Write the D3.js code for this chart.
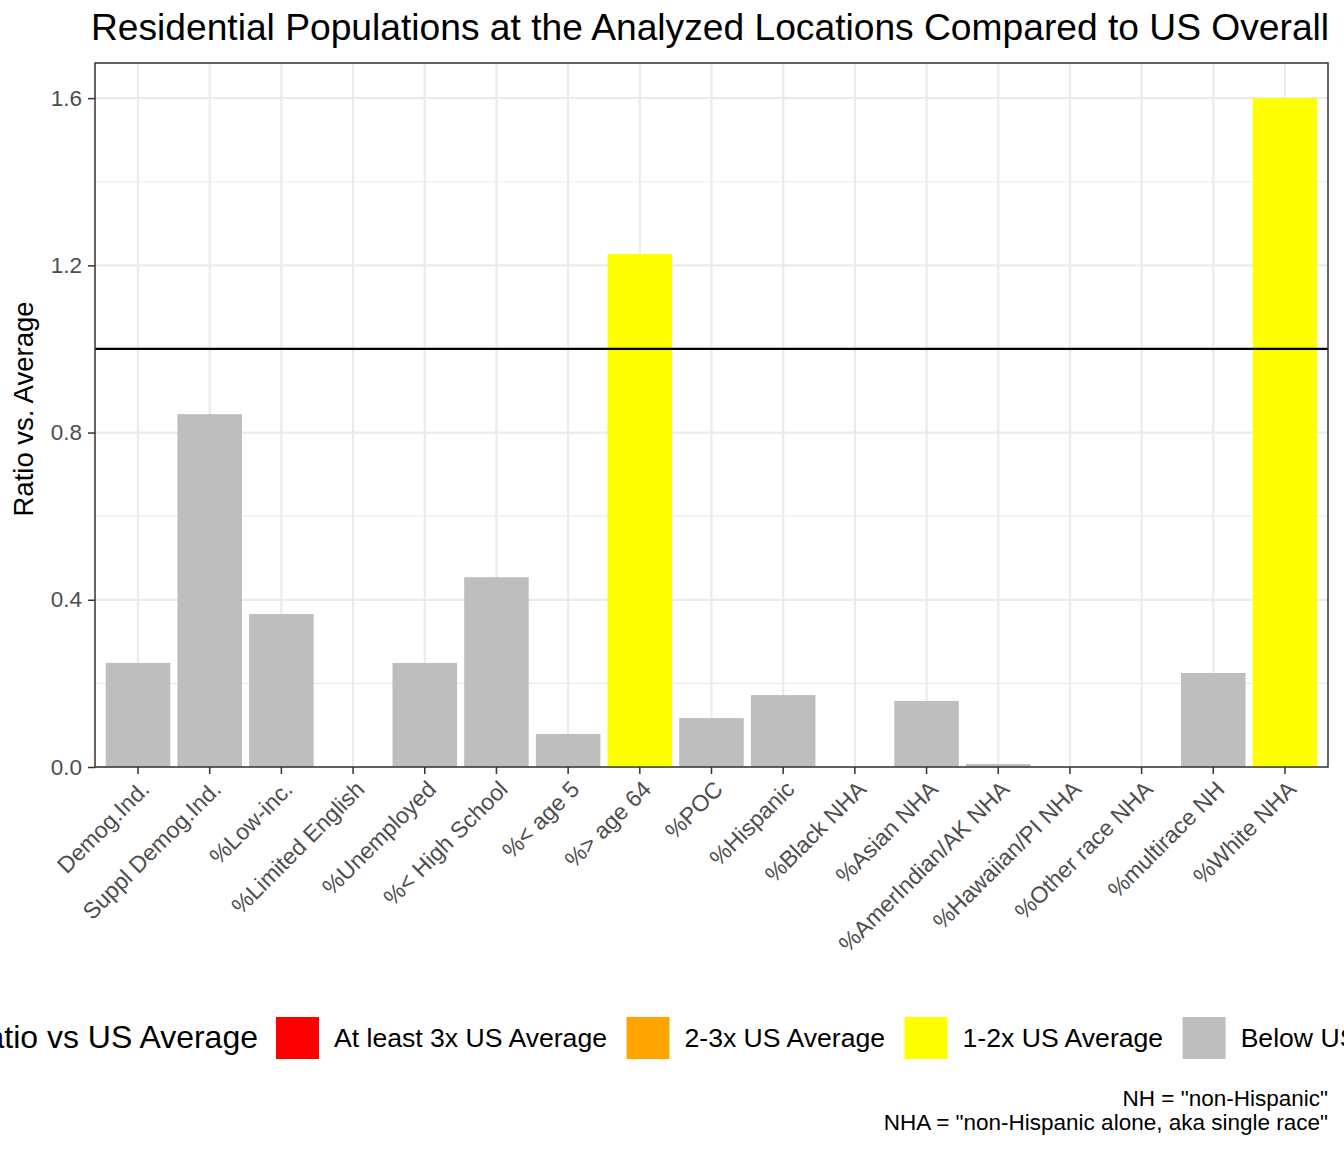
<!DOCTYPE html>
<html>
<head>
<meta charset="utf-8">
<script src="https://cdn.jsdelivr.net/npm/d3@7"></script>
<style>
  html, body { margin: 0; padding: 0; background: #fff; }
  svg { display: block; font-family: "Liberation Sans", Arial, sans-serif; }
</style>
</head>
<body>
<svg id="chart" width="1344" height="1152"></svg>
<script>
const categories = ["Demog.Ind.", "Suppl Demog.Ind.", "%Low-inc.", "%Limited English", "%Unemployed",
  "%< High School", "%< age 5", "%> age 64", "%POC", "%Hispanic", "%Black NHA", "%Asian NHA",
  "%AmerIndian/AK NHA", "%Hawaiian/PI NHA", "%Other race NHA", "%multirace NH", "%White NHA"];
const ratios = [0.249, 0.844, 0.366, 0, 0.249, 0.454, 0.079, 1.227, 0.117, 0.172, 0, 0.158, 0.007, 0, 0, 0.225, 1.6];
const yTicks = [0, 0.4, 0.8, 1.2, 1.6];
const yMinorTicks = [0.2, 0.6, 1.0, 1.4];
const legendLabels = ["At least 3x US Average", "2-3x US Average", "1-2x US Average", "Below US Average"];
const legendColors = ["#FF0000", "#FFA500", "#FFFF00", "#BEBEBE"];
const legendThresholds = [3, 2, 1, -Infinity];
const referenceLine = 1;
const titleText = "Residential Populations at the Analyzed Locations Compared to US Overall";
const yTitle = "Ratio vs. Average";
const legendTitle = "Ratio vs US Average";
const captionLines = ['NH = "non-Hispanic"', 'NHA = "non-Hispanic alone, aka single race"'];

const svg = d3.select("#chart");
const panel = { left: 95, right: 1328, top: 63, bottom: 767 };

const x = d3.scaleBand().domain(categories).range([panel.left, panel.right])
  .paddingInner(0.1).paddingOuter(0.15);
const y = d3.scaleLinear().domain([0, 1.684]).range([panel.bottom, panel.top]);

function colorFor(v) {
  for (let i = 0; i < legendThresholds.length; i++) if (v >= legendThresholds[i]) return legendColors[i];
  return legendColors[legendColors.length - 1];
}

// panel background
svg.append("rect").attr("x", panel.left).attr("y", panel.top)
  .attr("width", panel.right - panel.left).attr("height", panel.bottom - panel.top).attr("fill", "#fff");

// grid
const grid = svg.append("g");
grid.selectAll("line.minor").data(yMinorTicks).join("line")
  .attr("x1", panel.left).attr("x2", panel.right)
  .attr("y1", d => y(d)).attr("y2", d => y(d))
  .attr("stroke", "#EBEBEB").attr("stroke-width", 1.2);
grid.selectAll("line.majory").data(yTicks).join("line")
  .attr("x1", panel.left).attr("x2", panel.right)
  .attr("y1", d => y(d)).attr("y2", d => y(d))
  .attr("stroke", "#EBEBEB").attr("stroke-width", 2.2);
grid.selectAll("line.majorx").data(categories).join("line")
  .attr("x1", d => x(d) + x.bandwidth() / 2).attr("x2", d => x(d) + x.bandwidth() / 2)
  .attr("y1", panel.top).attr("y2", panel.bottom)
  .attr("stroke", "#EBEBEB").attr("stroke-width", 2.2);

// bars
svg.append("g").selectAll("rect").data(categories).join("rect")
  .attr("x", d => x(d)).attr("width", x.bandwidth())
  .attr("y", (d, i) => y(ratios[i])).attr("height", (d, i) => y(0) - y(ratios[i]))
  .attr("fill", (d, i) => colorFor(ratios[i]));

// reference line
svg.append("line").attr("x1", panel.left).attr("x2", panel.right)
  .attr("y1", y(referenceLine)).attr("y2", y(referenceLine))
  .attr("stroke", "#000").attr("stroke-width", 2.2);

// border
svg.append("rect").attr("x", panel.left).attr("y", panel.top)
  .attr("width", panel.right - panel.left).attr("height", panel.bottom - panel.top)
  .attr("fill", "none").attr("stroke", "#333333").attr("stroke-width", 1.5);

// y axis
const yAxis = d3.axisLeft(y).tickValues(yTicks).tickFormat(d3.format(".1f")).tickSize(7).tickPadding(6);
const gy = svg.append("g").attr("transform", `translate(${panel.left},0)`).call(yAxis);
gy.select(".domain").remove();
gy.selectAll(".tick line").attr("stroke", "#333333").attr("stroke-width", 1.5);
gy.selectAll(".tick text").attr("fill", "#4D4D4D").style("font-size", "22.5px")
  .style("font-family", "Liberation Sans, Arial, sans-serif");

// x axis
const xAxis = d3.axisBottom(x).tickSize(7).tickPadding(0);
const gx = svg.append("g").attr("transform", `translate(0,${panel.bottom})`).call(xAxis);
gx.select(".domain").remove();
gx.selectAll(".tick line").attr("stroke", "#333333").attr("stroke-width", 1.5);
gx.selectAll(".tick text")
  .attr("fill", "#4D4D4D").style("font-size", "23px")
  .style("font-family", "Liberation Sans, Arial, sans-serif")
  .attr("text-anchor", "end")
  .attr("y", 0).attr("dy", "0.72em")
  .attr("transform", "translate(1,12) rotate(-45)");

// title
svg.append("text").attr("x", 710).attr("y", 40)
  .attr("text-anchor", "middle").style("font-size", "37.2px").attr("fill", "#000").text(titleText);

// y title
svg.append("text").attr("transform", `translate(33,${(panel.top + panel.bottom) / 2 - 6}) rotate(-90)`)
  .attr("text-anchor", "middle").style("font-size", "27.5px").attr("fill", "#000").text(yTitle);

// legend
const lg = svg.append("g");
lg.append("text").attr("x", 258).attr("y", 1048).attr("text-anchor", "end")
  .style("font-size", "32px").attr("fill", "#000").text(legendTitle);
let cx = 276;
legendLabels.forEach((lab, i) => {
  lg.append("rect").attr("x", cx).attr("y", 1017).attr("width", 43).attr("height", 42).attr("fill", legendColors[i]);
  const t = lg.append("text").attr("x", cx + 58).attr("y", 1038).attr("dy", "0.35em")
    .style("font-size", "26.6px").attr("fill", "#000").text(lab);
  const w = t.node().getComputedTextLength();
  cx = cx + 58 + w + 19.5;
});

// caption
svg.append("g").selectAll("text").data(captionLines).join("text")
  .attr("x", panel.right).attr("y", (d, i) => 1106 + i * 24)
  .attr("text-anchor", "end").style("font-size", "22.5px").attr("fill", "#000").text(d => d);
</script>
</body>
</html>
